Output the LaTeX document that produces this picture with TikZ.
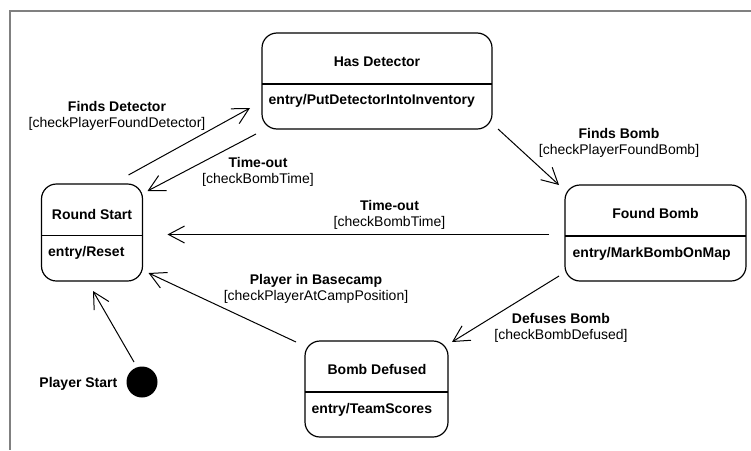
\documentclass[tikz,border=0pt]{standalone}
\usepackage{fontspec}
\setmainfont{Liberation Sans}
\usetikzlibrary{arrows.meta}

\begin{document}
\begin{tikzpicture}[
  x=1pt, y=-1pt,
  every node/.style={font=\fontsize{14}{16}\selectfont},
  state/.style={draw, line width=1.2pt, rounded corners=15pt, inner sep=0pt, outer sep=0pt},
  divider/.style={line width=1.2pt},
  title/.style={font=\fontsize{14}{16}\selectfont\bfseries, inner sep=0pt, anchor=base},
  activity/.style={font=\fontsize{14}{16}\selectfont\bfseries, inner sep=0pt, anchor=base west},
  guard/.style={align=center, inner sep=0pt},
  trans/.style={line width=1pt, -{Straight Barb[length=16pt,width=17pt,line width=1pt]}},
  frame/.style={draw=black!50, line width=2pt}
]
\useasboundingbox (0,0) rectangle (751,450);

% diagram frame
\draw[frame] (751,11) -- (10,11) -- (10,450);

% states
\node[state, minimum width=101pt, minimum height=97pt] (rs) at (92,232.5) {};
\node[state, minimum width=230pt, minimum height=96pt] (hd) at (377,81) {};
\node[state, minimum width=181pt, minimum height=96pt] (fb) at (655.5,233) {};
\node[state, minimum width=143pt, minimum height=96pt] (bd) at (376.5,389) {};

% compartment lines
\draw[divider] ([shift={(0,3)}]rs.west) -- ([shift={(0,3)}]rs.east);
\draw[divider] ([shift={(0,3)}]hd.west) -- ([shift={(0,3)}]hd.east);
\draw[divider] ([shift={(0,3)}]fb.west) -- ([shift={(0,3)}]fb.east);
\draw[divider] ([shift={(0,3)}]bd.west) -- ([shift={(0,3)}]bd.east);

% state names and entry actions
\node[title] (rsT) at (92,219) {Round Start};
\node[activity] (rsE) at (48,256) {entry/Reset};
\node[title] (hdT) at (377,66.7) {Has Detector};
\node[activity] (hdE) at (268.5,104.5) {entry/PutDetectorIntoInventory};
\node[title] (fbT) at (655.5,218.3) {Found Bomb};
\node[activity] (fbE) at (572.5,257) {entry/MarkBombOnMap};
\node[title] (bdT) at (377,374) {Bomb Defused};
\node[activity] (bdE) at (311.5,413) {entry/TeamScores};

% initial pseudostate
\node[circle, fill=black, minimum size=31pt, inner sep=0pt] (init) at (142,382) {};
\node[title, anchor=base east] (initL) at (117.5,387) {Player Start};

% transitions
\draw[trans] ([shift={(-8,-20)}]init.center) -- ([shift={(1,10)}]rs.south);
\draw[trans] ([shift={(-14,-9)}]rs.north east) -- ([shift={(-12,-21)}]hd.south west);
\draw[trans] ([shift={(-6,5)}]hd.south west) -- ([shift={(5,7)}]rs.north east);
\draw[trans] ([shift={(6,0)}]hd.south east) -- ([shift={(-6,0)}]fb.north west);
\draw[trans] ([shift={(-16,1.5)}]fb.west) -- ([shift={(25,2)}]rs.east);
\draw[trans] ([shift={(-6,-5)}]fb.south west) -- ([shift={(4,1)}]bd.north east);
\draw[trans] ([shift={(-9,1)}]bd.north west) -- ([shift={(6,-8)}]rs.south east);

% transition labels
\node[guard] (fdL) at (117,115.4) {\textbf{Finds Detector}\\{}[checkPlayerFoundDetector]};
\node[guard] (to1L) at (258,171.6) {\textbf{Time-out}\\{}[checkBombTime]};
\node[guard] (fbL) at (619,142.6) {\textbf{Finds Bomb}\\{}[checkPlayerFoundBomb]};
\node[guard] (to2L) at (389.5,215.3) {\textbf{Time-out}\\{}[checkBombTime]};
\node[guard] (pbL) at (316,288.6) {\textbf{Player in Basecamp}\\{}[checkPlayerAtCampPosition]};
\node[guard] (dbL) at (561,327.6) {\textbf{Defuses Bomb}\\{}[checkBombDefused]};
\end{tikzpicture}
\end{document}
